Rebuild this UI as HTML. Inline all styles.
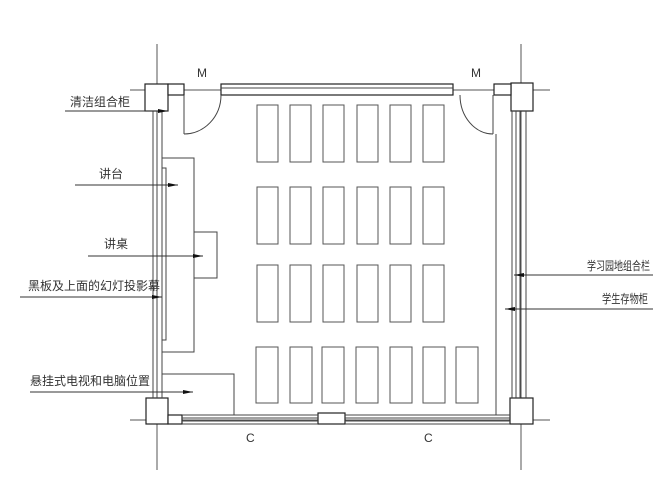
<!DOCTYPE html><html><head><meta charset="utf-8"><style>body{margin:0;background:#fff}svg{display:block}text{font-family:"Liberation Sans","Noto Sans CJK SC",sans-serif;font-size:12px;fill:#333}</style></head><body>
<svg width="663" height="482" viewBox="0 0 663 482" xmlns="http://www.w3.org/2000/svg">
<defs><marker id="a" markerWidth="10" markerHeight="6" refX="10" refY="3" orient="auto" markerUnits="userSpaceOnUse"><path d="M0,1 L10,3 L0,5z" fill="#111"/></marker></defs>
<g stroke="#555" stroke-width="1" fill="none">
<line x1="157" y1="44" x2="157" y2="470"/><line x1="521" y1="44" x2="521" y2="470"/>
<line x1="130" y1="90" x2="550" y2="90"/><line x1="130" y1="420" x2="550" y2="420"/>
</g>
<g stroke="#222" stroke-width="1.2" fill="#fff">
<rect x="145" y="84" width="23" height="27"/><rect x="511" y="83" width="22" height="28"/>
<rect x="146" y="398" width="22" height="26"/><rect x="510" y="398" width="23" height="26"/>
<rect x="168" y="84" width="16" height="11"/><rect x="221" y="84" width="232" height="11"/>
<rect x="494" y="84" width="17" height="11"/>
<rect x="168" y="415" width="14" height="9"/><rect x="318" y="413" width="27" height="11"/>
</g>
<g stroke="#444" stroke-width="1" fill="none">
<line x1="221" y1="88" x2="453" y2="88"/>
<line x1="184" y1="95" x2="184" y2="134"/><path d="M221,95 A37,39 0 0 1 184,134"/>
<line x1="493" y1="95" x2="493" y2="134"/><path d="M460,95 A33,39 0 0 0 493,134"/>
<line x1="153" y1="111" x2="153" y2="398"/><line x1="157" y1="111" x2="157" y2="398"/><line x1="162" y1="111" x2="162" y2="398"/>
<rect x="162" y="168" width="4" height="172"/>
<line x1="512" y1="111" x2="512" y2="398"/><line x1="516" y1="111" x2="516" y2="398"/><line x1="520" y1="111" x2="520" y2="398"/><line x1="526" y1="111" x2="526" y2="398"/>
<line x1="496" y1="134" x2="496" y2="415"/>
<line x1="182" y1="415" x2="318" y2="415"/><line x1="182" y1="418" x2="318" y2="418"/><line x1="182" y1="421" x2="318" y2="421"/><line x1="182" y1="424" x2="318" y2="424"/>
<line x1="345" y1="415" x2="510" y2="415"/><line x1="345" y1="418" x2="510" y2="418"/><line x1="345" y1="421" x2="510" y2="421"/><line x1="345" y1="424" x2="510" y2="424"/>
<rect x="162" y="158" width="32" height="194"/><rect x="194" y="232" width="23" height="46"/>
<polyline points="162,374 234,374 234,415"/>
</g>
<g stroke="#555" stroke-width="1" fill="none">
<rect x="257" y="105" width="21" height="57"/><rect x="290" y="105" width="21" height="57"/><rect x="323" y="105" width="21" height="57"/><rect x="357" y="105" width="21" height="57"/><rect x="390" y="105" width="21" height="57"/><rect x="423" y="105" width="21" height="57"/>
<rect x="257" y="187" width="21" height="57"/><rect x="290" y="187" width="21" height="57"/><rect x="323" y="187" width="21" height="57"/><rect x="357" y="187" width="21" height="57"/><rect x="390" y="187" width="21" height="57"/><rect x="423" y="187" width="21" height="57"/>
<rect x="257" y="265" width="21" height="57"/><rect x="290" y="265" width="21" height="57"/><rect x="323" y="265" width="21" height="57"/><rect x="357" y="265" width="21" height="57"/><rect x="390" y="265" width="21" height="57"/><rect x="423" y="265" width="21" height="57"/>
<rect x="256" y="347" width="22" height="56"/><rect x="290" y="347" width="22" height="56"/><rect x="322" y="347" width="22" height="56"/><rect x="356" y="347" width="22" height="56"/><rect x="390" y="347" width="22" height="56"/><rect x="423" y="347" width="22" height="56"/><rect x="456" y="347" width="22" height="56"/>
</g>
<g stroke="#333" stroke-width="1" marker-end="url(#a)">
<line x1="65" y1="111" x2="168" y2="111"/>
<line x1="75" y1="185" x2="178" y2="185"/>
<line x1="88" y1="256" x2="203" y2="256"/>
<line x1="20" y1="297" x2="162" y2="297"/>
<line x1="30" y1="392" x2="193" y2="392"/>
<line x1="653" y1="275" x2="514" y2="275"/>
<line x1="653" y1="309" x2="505" y2="309"/>
</g>
<text x="70" y="106">清洁组合柜</text>
<text x="99" y="178">讲台</text>
<text x="104" y="248">讲桌</text>
<text x="28" y="290">黑板及上面的幻灯投影幕</text>
<text x="30" y="385">悬挂式电视和电脑位置</text>
<text x="587" y="270" textLength="63" lengthAdjust="spacingAndGlyphs">学习园地组合栏</text>
<text x="602" y="303" textLength="46" lengthAdjust="spacingAndGlyphs">学生存物柜</text>
<text x="197" y="77">M</text><text x="471" y="77">M</text>
<text x="246" y="442">C</text><text x="424" y="442">C</text>
</svg></body></html>
